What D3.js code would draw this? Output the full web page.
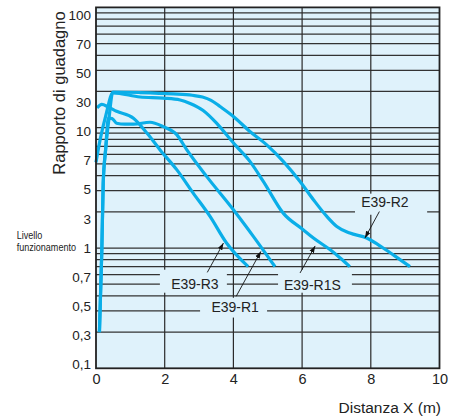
<!DOCTYPE html>
<html><head><meta charset="utf-8">
<script src="https://cdn.jsdelivr.net/npm/d3@7/dist/d3.min.js"></script>
<style>
body{margin:0;background:#fff}
svg{display:block;font-family:"Liberation Sans",Arial,Helvetica,sans-serif}
</style>
</head><body>
<svg id="c" width="456" height="419"></svg>
<script>
// ---- data ----
const xTicks = [0, 2, 4, 6, 8, 10];
const yTickLabels = ["100","70","50","30","10","7","5","3","1","0,7","0,5","0,3","0,1"];
const gridValues = [0.2,0.3,0.4,0.5,0.6,0.7,0.8,0.9,1,2,3,4,5,6,7,8,9,10,20,30,40,50,60,70,80,90];

const r2X  = [0.10,0.17,0.21,0.28,0.38,0.49,1.28,2.25,2.80,3.10,3.35,3.61,4.00,4.48,4.97,5.45,5.94,6.33,6.72,7.01,7.39,7.88,8.36,8.85,9.14];
const r2Y  = [0.20,0.97,3.47,6.56,12.1,19.8,19.6,19.1,18.6,18.0,16.9,15.0,12.4,9.3,7.2,5.25,3.57,2.52,1.83,1.51,1.33,1.21,1.00,0.80,0.70];
const r1sX = [0.00,0.12,0.29,0.49,1.28,1.96,2.45,2.74,3.12,3.51,3.80,4.09,4.48,4.87,5.45,6.03,6.33,6.81,7.10,7.39];
const r1sY = [5.15,7.95,12.8,19.5,18.0,17.6,17.0,15.9,13.9,10.9,8.74,6.99,5.25,3.58,1.95,1.42,1.21,0.97,0.83,0.70];
const r1X  = [0.10,0.17,0.21,0.28,0.36,0.47,0.60,0.84,1.09,1.57,1.96,2.35,2.64,3.22,4.00,4.58,5.21];
const r1Y  = [0.20,0.97,3.47,6.56,12.0,11.9,10.9,10.7,10.7,11.1,10.2,8.76,6.57,3.94,2.08,1.25,0.70];
const r3X  = [0.03,0.17,0.35,0.60,1.09,1.50,1.86,2.35,2.83,3.32,3.80,4.43];
const r3Y  = [14.6,15.6,14.9,13.7,12.0,8.9,6.57,4.48,2.86,1.83,1.10,0.70];

const seriesNames = ["E39-R2","E39-R1S","E39-R1","E39-R3"];
const seriesX = [r2X, r1sX, r1X, r3X];
const seriesY = [r2Y, r1sY, r1Y, r3Y];

// annotation label anchor (x, y) and arrow tail/tip, in data units
const labelX   = [8.41, 6.30, 4.05, 2.88];
const labelY   = [2.41, 0.495, 0.322, 0.50];
const boxX0    = [7.54, 5.30, 3.03, 1.86];
const boxX1    = [9.64, 7.45, 4.98, 3.81];
const boxY0    = [2.83, 0.66, 0.386, 0.66];
const boxY1    = [1.89, 0.425, 0.264, 0.425];
const arrowX0  = [8.25, 5.94, 4.08, 3.24];
const arrowY0  = [2.01, 0.62, 0.396, 0.627];
const arrowX1  = [7.83, 6.38, 4.80, 3.71];
const arrowY1  = [1.21, 1.04, 0.937, 1.10];

// ---- drawing ----
const svg = d3.select("#c");
const x = d3.scaleLinear().domain([0, 10]).range([96, 439.5]);
const y = d3.scaleLog().domain([0.1, 100]).range([368.3, 7.4]);
const yLab = d3.scalePoint().domain(yTickLabels).range([15, 364.3]);

const panel = "#dff2fb";
svg.append("defs").append("marker")
  .attr("id","ah").attr("viewBox","0 0 10 10").attr("refX",10).attr("refY",5)
  .attr("markerWidth",7).attr("markerHeight",7).attr("markerUnits","userSpaceOnUse")
  .attr("orient","auto")
  .append("path").attr("d","M0,1.5L10,5L0,8.5Z").attr("fill","#111");

svg.append("rect").attr("x", x(0)).attr("y", y(100))
  .attr("width", x(10) - x(0)).attr("height", y(0.1) - y(100)).attr("fill", panel);

// horizontal grid
svg.append("g").selectAll("line").data(gridValues).join("line")
  .attr("x1", x(0)).attr("x2", x(10))
  .attr("y1", d => y(d)).attr("y2", d => y(d))
  .attr("stroke", "#333").attr("stroke-width", 1.25);
// vertical grid
svg.append("g").selectAll("line").data(xTicks.slice(1, -1)).join("line")
  .attr("x1", d => x(d)).attr("x2", d => x(d))
  .attr("y1", y(100)).attr("y2", y(0.1))
  .attr("stroke", "#2a2a2a").attr("stroke-width", 1.2);

// label boxes masking grid
svg.append("g").selectAll("rect").data(seriesNames).join("rect")
  .attr("x", (d,i) => x(boxX0[i])).attr("y", (d,i) => y(boxY0[i]))
  .attr("width", (d,i) => x(boxX1[i]) - x(boxX0[i]))
  .attr("height", (d,i) => y(boxY1[i]) - y(boxY0[i]))
  .attr("fill", panel);

// curves
const line = d3.line().x(d => x(d[0])).y(d => y(d[1])).curve(d3.curveMonotoneX);
svg.append("g").selectAll("path").data(seriesNames).join("path")
  .attr("d", (d,i) => line(seriesX[i].map((v,j) => [v, seriesY[i][j]])))
  .attr("fill", "none").attr("stroke", "#0aaee8").attr("stroke-width", 3.2)
  .attr("stroke-linejoin", "round").attr("stroke-linecap", "butt");

// frame
svg.append("rect").attr("x", x(0)).attr("y", y(100))
  .attr("width", x(10) - x(0)).attr("height", y(0.1) - y(100))
  .attr("fill", "none").attr("stroke", "#222").attr("stroke-width", 1.8);

// annotations
svg.append("g").selectAll("line").data(seriesNames).join("line")
  .attr("x1", (d,i) => x(arrowX0[i])).attr("y1", (d,i) => y(arrowY0[i]))
  .attr("x2", (d,i) => x(arrowX1[i])).attr("y2", (d,i) => y(arrowY1[i]))
  .attr("stroke", "#111").attr("stroke-width", 0.9).attr("marker-end", "url(#ah)");
svg.append("g").selectAll("text").data(seriesNames).join("text")
  .attr("x", (d,i) => x(labelX[i])).attr("y", (d,i) => y(labelY[i]))
  .attr("dy", "0.36em").attr("text-anchor", "middle")
  .attr("font-size", 14).attr("fill", "#222").text(d => d);

// axes
const xAxis = svg.append("g").attr("transform", `translate(0,${y(0.1)})`)
  .call(d3.axisBottom(x).tickValues(xTicks).tickSize(0).tickPadding(5));
xAxis.select(".domain").remove();
xAxis.selectAll("text").attr("font-size", 14.5).attr("fill", "#222").attr("font-family", null);

const yAxis = svg.append("g").attr("transform", `translate(${x(0)},0)`)
  .call(d3.axisLeft(yLab).tickSize(0).tickPadding(5));
yAxis.select(".domain").remove();
yAxis.selectAll("text").attr("font-size", 13.5).attr("fill", "#222").attr("font-family", null);

// titles
svg.append("text").attr("transform", "translate(65,93) rotate(-90)")
  .attr("text-anchor", "middle").attr("font-size", 16.5).attr("fill", "#222")
  .text("Rapporto di guadagno");
svg.append("text").attr("x", 441).attr("y", 412.5).attr("text-anchor", "end")
  .attr("font-size", 15.5).attr("fill", "#222").text("Distanza X (m)");
svg.append("text").attr("x", 16.7).attr("y", 238.5).attr("font-size", 10)
  .attr("textLength", 25.7).attr("lengthAdjust", "spacingAndGlyphs").attr("fill", "#222").text("Livello");
svg.append("text").attr("x", 16.7).attr("y", 251).attr("font-size", 10)
  .attr("textLength", 59.3).attr("lengthAdjust", "spacingAndGlyphs").attr("fill", "#222").text("funzionamento");
</script>
</body></html>
